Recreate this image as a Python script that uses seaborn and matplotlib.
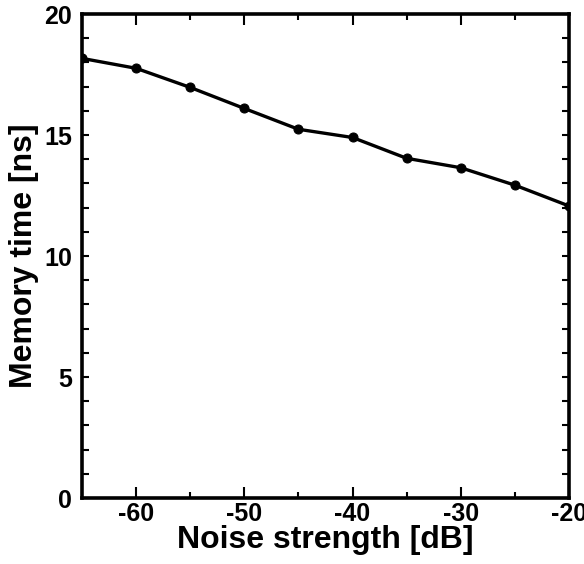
import numpy as np
import pandas as pd
import seaborn as sns
import matplotlib.pyplot as plt
from matplotlib.ticker import MultipleLocator

# values
noise_db = [-65, -60, -55, -50, -45, -40, -35, -30, -25, -20]
memory_ns = [18.17, 17.76, 16.97, 16.10, 15.24, 14.90, 14.04, 13.65, 12.93, 12.07]

df = pd.DataFrame({"noise": noise_db, "memory": memory_ns})

sns.set_style("ticks")
plt.rcParams["font.family"] = ["Liberation Sans", "DejaVu Sans"]
plt.rcParams["font.weight"] = "bold"
plt.rcParams["axes.unicode_minus"] = False
plt.rcParams["text.color"] = "black"
plt.rcParams["axes.labelcolor"] = "black"

fig = plt.figure(figsize=(5.84, 5.64), dpi=100)
ax = fig.add_axes([0.1404, 0.117, 0.8339, 0.858])

sns.lineplot(data=df, x="noise", y="memory", ax=ax, color="black",
             linewidth=2.4, marker="o", markersize=6.5, markeredgecolor="black")

ax.set_xlim(-65, -20)
ax.set_ylim(0, 20)
ax.xaxis.set_major_locator(MultipleLocator(10))
ax.xaxis.set_minor_locator(MultipleLocator(5))
ax.yaxis.set_major_locator(MultipleLocator(5))
ax.yaxis.set_minor_locator(MultipleLocator(1))

ax.tick_params(which="both", direction="in", top=True, right=True,
               width=1.5, colors="black", labelsize=18)
ax.tick_params(axis="x", which="major", length=8, pad=3)
ax.tick_params(axis="x", which="minor", length=4)
ax.tick_params(axis="y", which="both", length=5, pad=7)

for side in ["left", "right", "top", "bottom"]:
    ax.spines[side].set_visible(True)
    ax.spines[side].set_linewidth(2.6)
    ax.spines[side].set_color("black")

for lbl in ax.get_xticklabels() + ax.get_yticklabels():
    lbl.set_fontweight("bold")

ax.set_xlabel("Noise strength [dB]", fontsize=23, fontweight="bold", labelpad=-1)
ax.set_ylabel("Memory time [ns]", fontsize=23, fontweight="bold", labelpad=4)

fig.savefig("out.png", dpi=100)
